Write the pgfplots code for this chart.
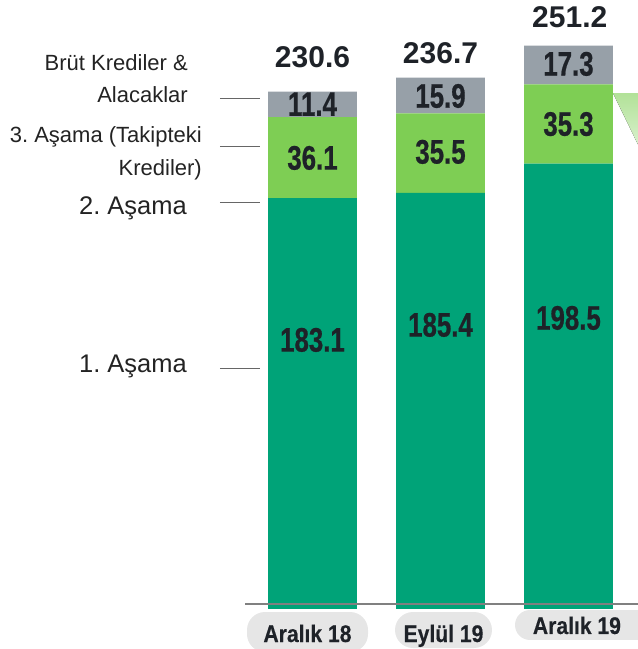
\documentclass[border=0pt]{standalone}
\usepackage{pgfplots}
\pgfplotsset{compat=1.18}
\usepackage{fontspec}
\setmainfont{Liberation Sans}
\newfontfamily\narrow[FakeStretch=0.76, FakeBold=0.6]{Liberation Sans}
\newfontfamily\semi[FakeStretch=0.88, FakeBold=0.4]{Liberation Sans}
\frenchspacing

\definecolor{stageone}{RGB}{0,163,120}
\definecolor{stagetwo}{RGB}{126,206,84}
\definecolor{stagethree}{RGB}{151,160,168}
\definecolor{pillgray}{RGB}{230,230,230}
\definecolor{txt}{RGB}{30,34,40}
\definecolor{lbl}{RGB}{35,35,35}

\begin{document}
\begin{tikzpicture}
\begin{axis}[
    name=ax,
    width=638pt, height=649pt,
    scale only axis,
    axis lines=none,
    xtick=\empty, ytick=\empty,
    xmin=-2.4414, xmax=2.5430,
    ymin=-17.825, ymax=271.39,
    ybar stacked,
    bar width=0.695,
    clip=false,
]
% 1. Asama
\addplot[fill=stageone, draw=none] coordinates {(0,183.1) (1,185.4) (2,198.5)};
% 2. Asama
\addplot[fill=stagetwo, draw=none] coordinates {(0,36.1) (1,35.5) (2,35.3)};
% 3. Asama
\addplot[fill=stagethree, draw=none] coordinates {(0,11.4) (1,15.9) (2,17.3)};
\end{axis}

\begin{axis}[
    width=638pt, height=649pt,
    scale only axis,
    axis lines=none,
    xtick=\empty, ytick=\empty,
    xmin=-2.4414, xmax=2.5430,
    ymin=-17.825, ymax=271.39,
    clip=false,
]
% light green wedge at the right edge
\fill[top color=stagetwo!60, bottom color=stagetwo!30, draw=none]
    (axis cs:2.3477,229.9) -- (axis cs:2.543,229.9) -- (axis cs:2.543,207.0) -- cycle;

% baseline
\draw[gray, line width=2pt] (axis cs:-0.5273,2.228) -- (axis cs:2.543,2.228);

% segment values
\begin{scope}[every node/.style={font=\narrow\bfseries\fontsize{34}{36}\selectfont, text=txt, inner sep=0pt}]
\node at (axis cs:0,119.9) {183.1};
\node at (axis cs:1,126.6) {185.4};
\node at (axis cs:2,129.7) {198.5};
\node at (axis cs:0,201.0) {36.1};
\node at (axis cs:1,203.7) {35.5};
\node at (axis cs:2,216.1) {35.3};
\node at (axis cs:0,225.0) {11.4};
\node at (axis cs:1,228.6) {15.9};
\node at (axis cs:2,242.9) {17.3};
\end{scope}

% totals
\begin{scope}[every node/.style={font=\bfseries\fontsize{30}{32}\selectfont, text=txt, inner sep=0pt}]
\node at (axis cs:0,245.8) {230.6};
\node at (axis cs:1,247.8) {236.7};
\node at (axis cs:2.01,263.8) {251.2};
\end{scope}

% left labels
\begin{scope}[every node/.style={text=lbl, inner sep=0pt, anchor=base east}]
\node[font=\fontsize{22}{24}\selectfont] at (axis cs:-0.9727,239.75) {Brüt Krediler \&};
\node[font=\fontsize{22}{24}\selectfont] at (axis cs:-0.9727,225.5) {Alacaklar};
\node[font=\fontsize{22}{24}\selectfont] at (axis cs:-0.8633,207.7) {3. Aşama (Takipteki};
\node[font=\fontsize{22}{24}\selectfont] at (axis cs:-0.8633,193.0) {Krediler)};
\node[font=\fontsize{25.5}{28}\selectfont] at (axis cs:-0.9805,176.0) {2. Aşama};
\node[font=\fontsize{25.5}{28}\selectfont] at (axis cs:-0.9805,105.2) {1. Aşama};
\end{scope}
\begin{scope}[draw=gray!80!black, line width=1pt]
\draw (axis cs:-0.7227,227.27) -- (axis cs:-0.4102,227.27);
\draw (axis cs:-0.7227,205.88) -- (axis cs:-0.4102,205.88);
\draw (axis cs:-0.7227,180.93) -- (axis cs:-0.4102,180.93);
\draw (axis cs:-0.7227,106.95) -- (axis cs:-0.4102,106.95);
\end{scope}

% category pills
\fill[pillgray, rounded corners=18pt] (axis cs:-0.5117,-1.337) rectangle (axis cs:0.4336,-19.2);
\fill[pillgray, rounded corners=18pt] (axis cs:0.6445,-1.337) rectangle (axis cs:1.4023,-17.38);
\fill[pillgray, rounded corners=15pt] (axis cs:1.582,-0.446) rectangle (axis cs:2.715,-13.81);
\begin{scope}[every node/.style={font=\semi\bfseries\fontsize{24}{26}\selectfont, text=txt, inner sep=0pt, anchor=base}]
\node at (axis cs:-0.0391,-14.71) {Aralık 18};
\node at (axis cs:1.0234,-14.71) {Eylül 19};
\node at (axis cs:2.066,-11.14) {Aralık 19};
\end{scope}
\end{axis}
\pgfresetboundingbox
\path[use as bounding box] (ax.south west) rectangle (ax.north east);
\end{tikzpicture}
\end{document}
